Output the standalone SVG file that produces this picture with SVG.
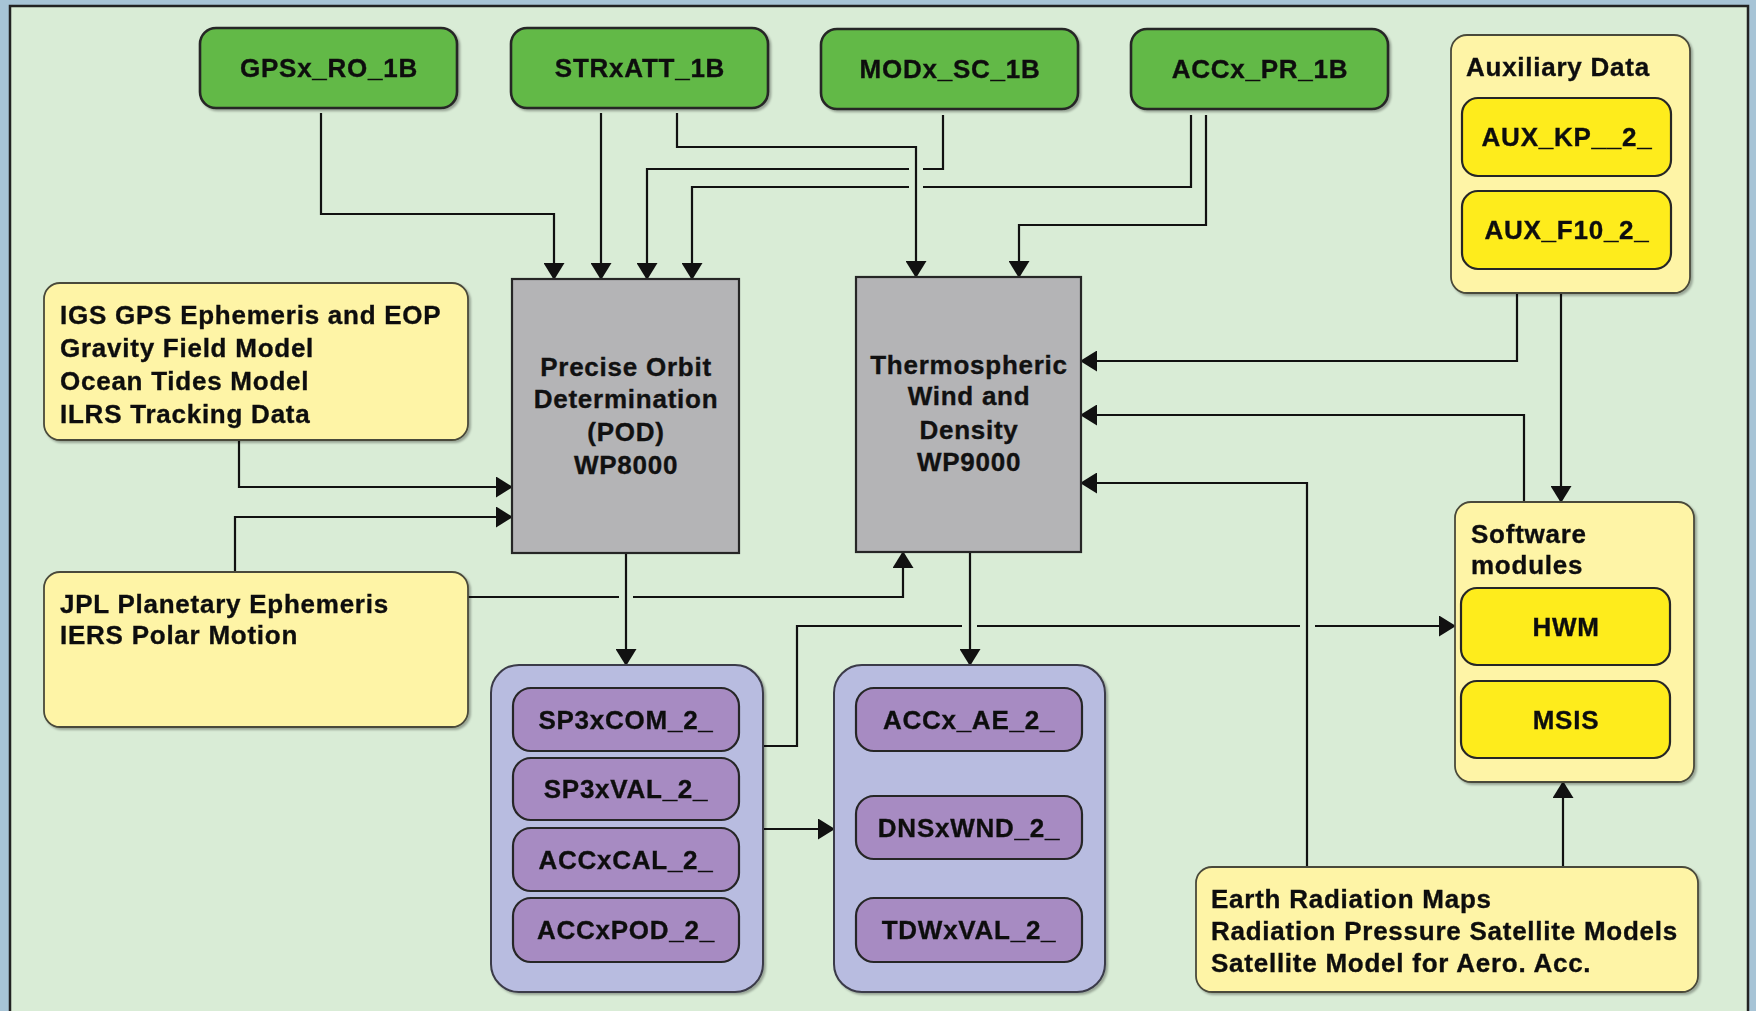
<svg xmlns="http://www.w3.org/2000/svg" width="1756" height="1011" viewBox="0 0 1756 1011">
  <style>
    .t { font-family: "Liberation Sans", Arial, Helvetica, sans-serif; font-weight: bold; font-size: 26px; letter-spacing: 0.75px; fill: #111; stroke: #111; stroke-width: 0.35; }
    .c { text-anchor: middle; }
    .box { stroke: #262626; stroke-width: 2.2; }
    .green { fill: #62b947; stroke-width: 2.6; }
    .pale { fill: #fef4a6; stroke: #4a4a3a; stroke-width: 1.8; }
    .yellow { fill: #feec1f; }
    .grey { fill: #b4b4b6; }
    .lav { fill: #b8bce0; stroke: #3a3a48; stroke-width: 2; }
    .purple { fill: #a78bc2; }
    .wire { fill: none; stroke: #111; stroke-width: 2.2; marker-end: url(#arrow); }
  </style>
  <defs>
    <marker id="arrow" viewBox="0 0 17 21" markerWidth="17" markerHeight="21" refX="16" refY="10.5" orient="auto" markerUnits="userSpaceOnUse">
      <path d="M0,0 L17,10.5 L0,21 z" fill="#111"/>
    </marker>
    <filter id="shadow" x="-5%" y="-5%" width="115%" height="115%">
      <feDropShadow dx="2" dy="2" stdDeviation="1.2" flood-color="#000" flood-opacity="0.3"/>
    </filter>
  </defs>

  <!-- page and panel -->
  <rect x="0" y="0" width="1756" height="1011" fill="#a7c4d6"/>
  <rect x="10" y="6" width="1738" height="1030" fill="#d9ecd6" stroke="#222" stroke-width="2.5"/>

  <!-- connectors -->
  <g id="connectors">
    <path class="wire" d="M321,113 V214 H554 V279"/>
    <path class="wire" d="M601,113 V279"/>
    <path class="wire" d="M677,113 V147 H916 V277"/>
    <path class="wire" d="M943,115 V169 H923 M909,169 H647 V279"/>
    <path class="wire" d="M1191,115 V187 H923 M909,187 H692 V279"/>
    <path class="wire" d="M1206,115 V225 H1019 V277"/>
    <path class="wire" d="M239,440 V487 H512"/>
    <path class="wire" d="M235,572 V517 H512"/>
    <path class="wire" d="M468,597 H619 M633,597 H903 V552"/>
    <path class="wire" d="M626,553 V665"/>
    <path class="wire" d="M970,552 V665"/>
    <path class="wire" d="M763,746 H797 V626 H962 M977,626 H1300 M1315,626 H1455"/>
    <path class="wire" d="M763,829 H834"/>
    <path class="wire" d="M1517,293 V361 H1081"/>
    <path class="wire" d="M1561,293 V502"/>
    <path class="wire" d="M1524,502 V415 H1081"/>
    <path class="wire" d="M1307,867 V483 H1081"/>
    <path class="wire" d="M1563,867 V782"/>
  </g>

  <!-- level 1B input products -->
  <g id="gps-ro-1b" filter="url(#shadow)">
    <rect class="box green" x="200" y="28" width="257" height="80" rx="16"/>
    <text class="t c" x="329" y="77">GPSx_RO_1B</text>
  </g>
  <g id="strx-att-1b" filter="url(#shadow)">
    <rect class="box green" x="511" y="28" width="257" height="80" rx="16"/>
    <text class="t c" x="640" y="77">STRxATT_1B</text>
  </g>
  <g id="modx-sc-1b" filter="url(#shadow)">
    <rect class="box green" x="821" y="29" width="257" height="80" rx="16"/>
    <text class="t c" x="950" y="78">MODx_SC_1B</text>
  </g>
  <g id="accx-pr-1b" filter="url(#shadow)">
    <rect class="box green" x="1131" y="29" width="257" height="80" rx="16"/>
    <text class="t c" x="1260" y="78">ACCx_PR_1B</text>
  </g>

  <!-- auxiliary data -->
  <g id="auxiliary-data" filter="url(#shadow)">
    <rect class="pale" x="1451" y="35" width="239" height="258" rx="16"/>
    <text class="t" x="1466" y="76">Auxiliary Data</text>
    <rect class="box yellow" x="1462" y="98" width="209" height="78" rx="16"/>
    <text class="t c" x="1567" y="146">AUX_KP__2_</text>
    <rect class="box yellow" x="1462" y="191" width="209" height="78" rx="16"/>
    <text class="t c" x="1567" y="239">AUX_F10_2_</text>
  </g>

  <!-- external inputs -->
  <g id="igs-inputs" filter="url(#shadow)">
    <rect class="pale" x="44" y="283" width="424" height="157" rx="16"/>
    <text class="t" x="60" y="324">IGS GPS Ephemeris and EOP</text>
    <text class="t" x="60" y="357">Gravity Field Model</text>
    <text class="t" x="60" y="390">Ocean Tides Model</text>
    <text class="t" x="60" y="423">ILRS Tracking Data</text>
  </g>
  <g id="jpl-inputs" filter="url(#shadow)">
    <rect class="pale" x="44" y="572" width="424" height="155" rx="16"/>
    <text class="t" x="60" y="613">JPL Planetary Ephemeris</text>
    <text class="t" x="60" y="644">IERS Polar Motion</text>
  </g>

  <!-- processors -->
  <g id="pod-wp8000">
    <rect class="box grey" x="512" y="279" width="227" height="274"/>
    <text class="t c" x="626" y="376">Precise Orbit</text>
    <text class="t c" x="626" y="408">Determination</text>
    <text class="t c" x="626" y="441">(POD)</text>
    <text class="t c" x="626" y="474">WP8000</text>
  </g>
  <g id="twd-wp9000">
    <rect class="box grey" x="856" y="277" width="225" height="275"/>
    <text class="t c" x="969" y="374">Thermospheric</text>
    <text class="t c" x="969" y="405">Wind and</text>
    <text class="t c" x="969" y="439">Density</text>
    <text class="t c" x="969" y="471">WP9000</text>
  </g>

  <!-- software modules -->
  <g id="software-modules" filter="url(#shadow)">
    <rect class="pale" x="1455" y="502" width="239" height="280" rx="16"/>
    <text class="t" x="1471" y="543">Software</text>
    <text class="t" x="1471" y="574">modules</text>
    <rect class="box yellow" x="1461" y="588" width="209" height="77" rx="16"/>
    <text class="t c" x="1566" y="636">HWM</text>
    <rect class="box yellow" x="1461" y="681" width="209" height="77" rx="16"/>
    <text class="t c" x="1566" y="729">MSIS</text>
  </g>

  <!-- level 2 products -->
  <g id="pod-products" filter="url(#shadow)">
    <rect class="lav" x="491" y="665" width="272" height="327" rx="28"/>
    <rect class="box purple" x="513" y="688" width="226" height="63" rx="18"/>
    <text class="t c" x="626" y="729">SP3xCOM_2_</text>
    <rect class="box purple" x="513" y="758" width="226" height="62" rx="18"/>
    <text class="t c" x="626" y="798">SP3xVAL_2_</text>
    <rect class="box purple" x="513" y="828" width="226" height="63" rx="18"/>
    <text class="t c" x="626" y="869">ACCxCAL_2_</text>
    <rect class="box purple" x="513" y="898" width="226" height="64" rx="18"/>
    <text class="t c" x="626" y="939">ACCxPOD_2_</text>
  </g>
  <g id="twd-products" filter="url(#shadow)">
    <rect class="lav" x="834" y="665" width="271" height="327" rx="28"/>
    <rect class="box purple" x="856" y="688" width="226" height="63" rx="18"/>
    <text class="t c" x="969" y="729">ACCx_AE_2_</text>
    <rect class="box purple" x="856" y="796" width="226" height="63" rx="18"/>
    <text class="t c" x="969" y="837">DNSxWND_2_</text>
    <rect class="box purple" x="856" y="898" width="226" height="64" rx="18"/>
    <text class="t c" x="969" y="939">TDWxVAL_2_</text>
  </g>

  <!-- radiation and satellite models -->
  <g id="radiation-models" filter="url(#shadow)">
    <rect class="pale" x="1196" y="867" width="502" height="125" rx="16"/>
    <text class="t" x="1211" y="908">Earth Radiation Maps</text>
    <text class="t" x="1211" y="940">Radiation Pressure Satellite Models</text>
    <text class="t" x="1211" y="972">Satellite Model for Aero. Acc.</text>
  </g>
</svg>
